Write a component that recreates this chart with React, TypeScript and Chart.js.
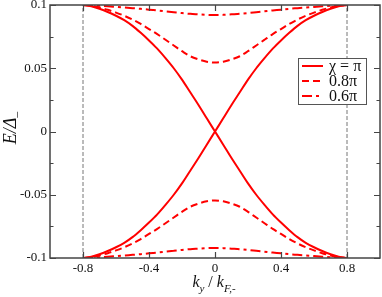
import React, { useEffect, useRef } from "react";
import { Chart, registerables } from "chart.js";

Chart.register(...registerables);

const kyValues = [
  -0.8, -0.75, -0.7, -0.65, -0.6, -0.55, -0.5, -0.45, -0.4, -0.35, -0.3, -0.25, -0.2, -0.15, -0.1, -0.05,
  0, 0.05, 0.1, 0.15, 0.2, 0.25, 0.3, 0.35, 0.4, 0.45, 0.5, 0.55, 0.6, 0.65, 0.7, 0.75, 0.8,
];

// chi = pi : two branches crossing at 0
const solidBranchA = [
  0.1, 0.099, 0.097, 0.0945, 0.0915, 0.088, 0.0835, 0.078, 0.072, 0.0655, 0.058, 0.05, 0.041, 0.031, 0.021, 0.0104,
  0, -0.0104, -0.021, -0.031, -0.041, -0.05, -0.058, -0.0655, -0.072, -0.078, -0.0835, -0.088, -0.0915, -0.0945, -0.097, -0.099, -0.1,
];
const solidBranchB = [
  -0.1, -0.099, -0.097, -0.0945, -0.0915, -0.088, -0.0835, -0.078, -0.072, -0.0655, -0.058, -0.05, -0.041, -0.031, -0.021, -0.0104,
  0, 0.0104, 0.021, 0.031, 0.041, 0.05, 0.058, 0.0655, 0.072, 0.078, 0.0835, 0.088, 0.0915, 0.0945, 0.097, 0.099, 0.1,
];

// chi = 0.8 pi
const dashedUpper = [
  0.1, 0.0993, 0.098, 0.0962, 0.094, 0.0915, 0.0885, 0.085, 0.081, 0.077, 0.0725, 0.068, 0.0635, 0.0595, 0.057, 0.0552,
  0.0545, 0.0552, 0.057, 0.0595, 0.0635, 0.068, 0.0725, 0.077, 0.081, 0.085, 0.0885, 0.0915, 0.094, 0.0962, 0.098, 0.0993, 0.1,
];
const dashedLower = [
  -0.1, -0.0993, -0.098, -0.0962, -0.094, -0.0915, -0.0885, -0.085, -0.081, -0.077, -0.0725, -0.068, -0.0635, -0.0595, -0.057, -0.0552,
  -0.0545, -0.0552, -0.057, -0.0595, -0.0635, -0.068, -0.0725, -0.077, -0.081, -0.085, -0.0885, -0.0915, -0.094, -0.0962, -0.098, -0.0993, -0.1,
];

// chi = 0.6 pi
const dashDotUpper = [
  0.1, 0.0997, 0.0994, 0.099, 0.0985, 0.098, 0.0975, 0.097, 0.0963, 0.0957, 0.095, 0.0943, 0.0936, 0.093, 0.0926, 0.0922,
  0.0921, 0.0922, 0.0926, 0.093, 0.0936, 0.0943, 0.095, 0.0957, 0.0963, 0.097, 0.0975, 0.098, 0.0985, 0.099, 0.0994, 0.0997, 0.1,
];
const dashDotLower = [
  -0.1, -0.0997, -0.0994, -0.099, -0.0985, -0.098, -0.0975, -0.097, -0.0963, -0.0957, -0.095, -0.0943, -0.0936, -0.093, -0.0926, -0.0922,
  -0.0921, -0.0922, -0.0926, -0.093, -0.0936, -0.0943, -0.095, -0.0957, -0.0963, -0.097, -0.0975, -0.098, -0.0985, -0.099, -0.0994, -0.0997, -0.1,
];

const markerLines = [-0.8, 0.8];
const yRange = [-0.1, 0.1];
const xRange = [-1, 1];

const xTickValues = [-0.8, -0.4, 0, 0.4, 0.8];
const xTickLabels = ["-0.8", "-0.4", "0", "0.4", "0.8"];
const yTickValues = [0.1, 0.05, 0, -0.05, -0.1];
const yTickLabels = ["0.1", "0.05", "0", "-0.05", "-0.1"];
const yMinorTicks = [0.075, 0.025, -0.025, -0.075];

const legendLabels = ["\u03C7 = \u03C0", "0.8\u03C0", "0.6\u03C0"];

const RED = "#ff0000";
const SOLID: number[] = [];
const DASH = [7, 4];
const DASHDOT = [10, 4, 3, 4];
const SERIF = "'Liberation Serif', 'DejaVu Serif', serif";

function pts(ys: number[]) {
  return kyValues.map((x, i) => ({ x, y: ys[i] }));
}

const decorPlugin = {
  id: "decor",
  afterDatasetsDraw(chart: any) {
    const { ctx, chartArea: a, scales } = chart;
    const xs = scales.x;
    const ys = scales.y;
    ctx.save();
    ctx.strokeStyle = "#444";
    ctx.lineWidth = 1.5;
    ctx.setLineDash([]);
    ctx.strokeRect(a.left, a.top, a.right - a.left, a.bottom - a.top);
    ctx.lineWidth = 1.2;
    ctx.beginPath();
    xTickValues.forEach((v) => {
      const px = Math.round(xs.getPixelForValue(v)) + 0.5;
      ctx.moveTo(px, a.bottom);
      ctx.lineTo(px, a.bottom - 6);
      ctx.moveTo(px, a.top);
      ctx.lineTo(px, a.top + 6);
    });
    yTickValues.forEach((v) => {
      const py = Math.round(ys.getPixelForValue(v)) + 0.5;
      ctx.moveTo(a.left, py);
      ctx.lineTo(a.left + 6, py);
      ctx.moveTo(a.right, py);
      ctx.lineTo(a.right - 6, py);
    });
    yMinorTicks.forEach((v) => {
      const py = Math.round(ys.getPixelForValue(v)) + 0.5;
      ctx.moveTo(a.left, py);
      ctx.lineTo(a.left + 3.5, py);
      ctx.moveTo(a.right, py);
      ctx.lineTo(a.right - 3.5, py);
    });
    ctx.stroke();

    // tick labels
    ctx.fillStyle = "#111";
    ctx.font = `13px ${SERIF}`;
    ctx.textAlign = "right";
    ctx.textBaseline = "middle";
    yTickValues.forEach((v, i) => {
      ctx.fillText(yTickLabels[i], a.left - 3, ys.getPixelForValue(v));
    });
    ctx.textAlign = "center";
    ctx.textBaseline = "top";
    xTickValues.forEach((v, i) => {
      ctx.fillText(xTickLabels[i], xs.getPixelForValue(v), a.bottom + 4);
    });

    // y title: E/Δ₋ rotated
    ctx.save();
    ctx.translate(16, 128);
    ctx.rotate(-Math.PI / 2);
    ctx.textBaseline = "alphabetic";
    ctx.textAlign = "left";
    ctx.font = `italic 18px ${SERIF}`;
    const main = "E/\u0394";
    const wMain = ctx.measureText(main).width;
    ctx.font = `12px ${SERIF}`;
    const sub = "\u2013";
    const wSub = ctx.measureText(sub).width;
    const total = wMain + wSub;
    ctx.font = `italic 18px ${SERIF}`;
    ctx.fillText(main, -total / 2, 0);
    ctx.font = `12px ${SERIF}`;
    ctx.fillText(sub, -total / 2 + wMain, 4);
    ctx.restore();

    // x title: k_y / k_F,-
    ctx.textAlign = "left";
    ctx.textBaseline = "alphabetic";
    const parts: { t: string; f: string; dy: number }[] = [
      { t: "k", f: `italic 16px ${SERIF}`, dy: 0 },
      { t: "y", f: `italic 11px ${SERIF}`, dy: 5 },
      { t: " / ", f: `16px ${SERIF}`, dy: 0 },
      { t: "k", f: `italic 16px ${SERIF}`, dy: 0 },
      { t: "F,-", f: `italic 11px ${SERIF}`, dy: 5 },
    ];
    let tw = 0;
    parts.forEach((p) => {
      ctx.font = p.f;
      tw += ctx.measureText(p.t).width;
    });
    let cx = xs.getPixelForValue(0) - tw / 2 - 1;
    const base = 287;
    parts.forEach((p) => {
      ctx.font = p.f;
      ctx.fillText(p.t, cx, base + p.dy);
      cx += ctx.measureText(p.t).width;
    });
    ctx.restore();
  },
  afterDraw(chart: any) {
    const { ctx } = chart;
    ctx.save();
    const bx = 298, by = 58, bw = 68, bh = 46;
    ctx.fillStyle = "#fff";
    ctx.fillRect(bx, by, bw, bh);
    ctx.strokeStyle = "#555";
    ctx.lineWidth = 1;
    ctx.setLineDash([]);
    ctx.strokeRect(bx + 0.5, by + 0.5, bw, bh);
    const dashes = [SOLID, DASH, DASHDOT];
    ctx.font = `16px ${SERIF}`;
    ctx.textBaseline = "middle";
    ctx.textAlign = "left";
    legendLabels.forEach((lab, i) => {
      const y = by + 8 + i * 15;
      ctx.strokeStyle = RED;
      ctx.lineWidth = 2;
      ctx.setLineDash(dashes[i]);
      ctx.beginPath();
      ctx.moveTo(bx + 4, y);
      ctx.lineTo(bx + 25, y);
      ctx.stroke();
      ctx.fillStyle = "#111";
      ctx.fillText(lab, bx + 31, y + 1);
    });
    ctx.restore();
  },
};

export default function App() {
  const ref = useRef<HTMLCanvasElement | null>(null);
  useEffect(() => {
    if (!ref.current) return;
    const line = (data: number[], dash: number[]) => ({
      data: pts(data),
      borderColor: RED,
      borderWidth: 2,
      borderDash: dash,
      pointRadius: 0,
      fill: false,
      cubicInterpolationMode: "monotone" as const,
    });
    const chart = new Chart(ref.current, {
      type: "line",
      data: {
        datasets: [
          ...markerLines.map((m) => ({
            data: [
              { x: m, y: yRange[0] },
              { x: m, y: yRange[1] },
            ],
            borderColor: "#777",
            borderWidth: 1,
            borderDash: [4, 2],
            pointRadius: 0,
            fill: false,
          })),
          line(solidBranchA, SOLID),
          line(solidBranchB, SOLID),
          line(dashedUpper, DASH),
          line(dashedLower, DASH),
          line(dashDotUpper, DASHDOT),
          line(dashDotLower, DASHDOT),
        ],
      },
      options: {
        animation: false,
        responsive: false,
        devicePixelRatio: 1,
        layout: { padding: { top: 5, right: 2, left: 0, bottom: 0 } },
        plugins: { legend: { display: false }, tooltip: { enabled: false } },
        scales: {
          x: {
            type: "linear",
            min: xRange[0],
            max: xRange[1],
            grid: { display: false },
            border: { display: false },
            ticks: { display: false },
            afterFit: (s: any) => {
              s.height = 39;
            },
          },
          y: {
            type: "linear",
            min: yRange[0],
            max: yRange[1],
            grid: { display: false },
            border: { display: false },
            ticks: { display: false },
            afterFit: (s: any) => {
              s.width = 50;
            },
          },
        },
      },
      plugins: [decorPlugin],
    });
    return () => chart.destroy();
  }, []);
  return (
    <div style={{ position: "absolute", left: 0, top: 0, width: 382, height: 297, background: "#fff" }}>
      <canvas ref={ref} width={382} height={297} />
    </div>
  );
}
